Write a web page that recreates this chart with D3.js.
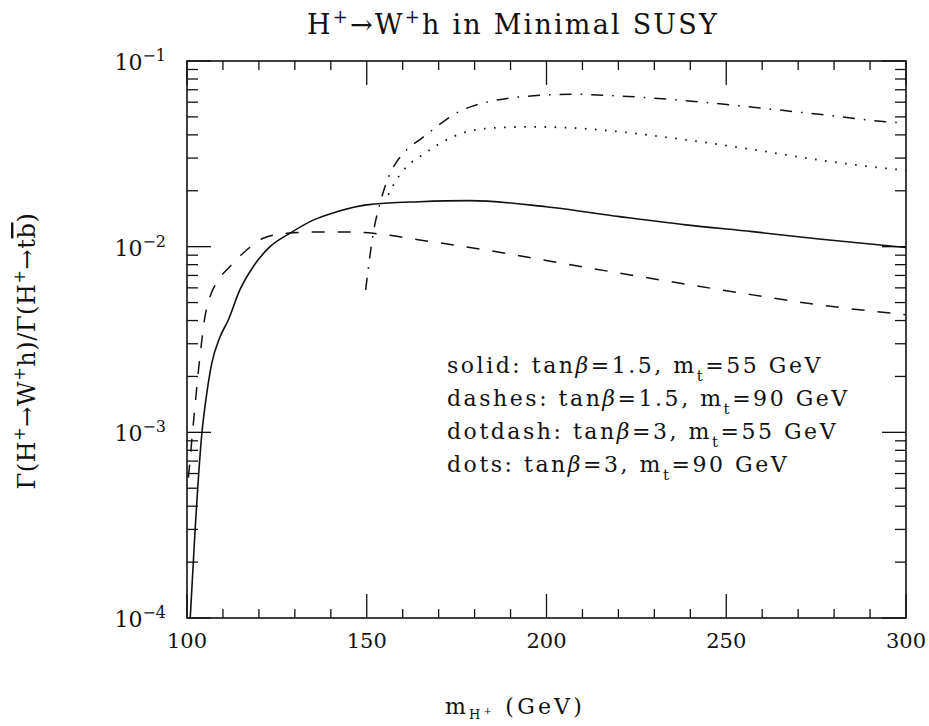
<!DOCTYPE html>
<html><head><meta charset="utf-8">
<script src="https://cdn.jsdelivr.net/npm/d3@7"></script>
<style>
body{margin:0;background:#fff;}
text{font-family:"DejaVu Serif","Liberation Serif",serif;fill:#111;}
</style></head>
<body><svg id="c" width="929" height="726"></svg>
<script>
// ---- data ----
const solidX = [100.9,102.2,104.1,105.5,106.9,109.2,111.5,114.7,118.4,123.1,128.6,135.1,141.6,149.9,164.7,178.6,199.9,220.3,238.8,257.3,275.8,300];
const solidY = [1e-4,2.86e-4,9.7e-4,1.62e-3,2.36e-3,3.27e-3,4.03e-3,5.85e-3,7.8e-3,0.0100,0.0118,0.0139,0.0154,0.0168,0.01746,0.0177,0.0164,0.01452,0.0131,0.01205,0.0110,0.0099];
const dashX = [100.4,102.2,103.6,105,106.4,107.8,111.9,116.6,121.2,127.7,137,144.4,151.8,164.7,183.2,201.8,220.3,238.8,257.3,275.8,300];
const dashY = [5.7e-4,1.37e-3,2.56e-3,4.2e-3,5.38e-3,6.2e-3,7.8e-3,9.6e-3,0.0111,0.0118,0.0120,0.0120,0.0118,0.01086,0.0096,0.0083,0.0072,0.00628,0.0055,0.00486,0.0043];
const dotdashX = [149.7,151.8,154,156,158,160,162,164.7,169.4,174,183.3,199.9,207.2,220.3,238.8,257.3,275.8,294.4,300];
const dotdashY = [0.00585,0.0118,0.018,0.0235,0.028,0.0315,0.0345,0.0376,0.0443,0.0512,0.060,0.0656,0.0662,0.0648,0.0611,0.0564,0.0516,0.0471,0.0462];
const dotsX = [156,158,160,162,164.7,174,183.2,195.3,206.4,220.3,238.8,257.3,275.8,297.1,300];
const dotsY = [0.019,0.0225,0.0255,0.028,0.0305,0.0391,0.0433,0.0442,0.0437,0.0416,0.0376,0.0334,0.0293,0.0261,0.0258];
const xTickLabels = ["100","150","200","250","300"];
const yTickExps = ["-4","-3","-2","-1"];
const legendLines = [
  ["solid: tan","=1.5, m","=55 GeV"],
  ["dashes: tan","=1.5, m","=90 GeV"],
  ["dotdash: tan","=3, m","=55 GeV"],
  ["dots: tan","=3, m","=90 GeV"]
];

// ---- layout ----
const W = 929, H = 726;
const m = {left:187, top:61, right:23, bottom:108};
const iw = W - m.left - m.right, ih = H - m.top - m.bottom;
const svg = d3.select("#c");
const g = svg.append("g").attr("transform",`translate(${m.left},${m.top})`);
const x = d3.scaleLinear().domain([100,300]).range([0,iw]);
const y = d3.scaleLog().domain([1e-4,1e-1]).range([ih,0]);

function fit(t, target){
  const n = t.text().length;
  const w = t.node().getComputedTextLength();
  t.attr("letter-spacing", ((target - w) / n).toFixed(2));
}

// frame
g.append("rect").attr("width",iw).attr("height",ih).attr("fill","none").attr("stroke","#111").attr("stroke-width",1.6);

// ticks (inward, all sides)
const xMajor = d3.range(100,301,50), xMinor = d3.range(100,301,10).filter(v=>v%50!==0);
const yMajor = [1e-4,1e-3,1e-2,1e-1];
const yMinor = [];
for (let e=-4;e<-1;e++) for (let k=2;k<10;k++) yMinor.push(k*Math.pow(10,e));
const tk = g.append("g").attr("stroke","#111").attr("stroke-width",1.3);
function xt(vals,len){
  vals.forEach(v=>{
    tk.append("line").attr("x1",x(v)).attr("x2",x(v)).attr("y1",ih).attr("y2",ih-len);
    tk.append("line").attr("x1",x(v)).attr("x2",x(v)).attr("y1",0).attr("y2",len);
  });
}
function yt(vals,len){
  vals.forEach(v=>{
    tk.append("line").attr("x1",0).attr("x2",len).attr("y1",y(v)).attr("y2",y(v));
    tk.append("line").attr("x1",iw).attr("x2",iw-len).attr("y1",y(v)).attr("y2",y(v));
  });
}
xt(xMajor,24); xt(xMinor,9); yt(yMajor,24); yt(yMinor,11);

// tick labels
xMajor.forEach((v,i)=>{
  g.append("text").attr("x",x(v)).attr("y",ih+30).attr("text-anchor","middle")
   .attr("font-size",21).text(xTickLabels[i]);
});
yMajor.forEach((v,i)=>{
  const t = g.append("text").attr("x",-21).attr("y",y(v)+9).attr("text-anchor","end").attr("font-size",22);
  t.append("tspan").text("10");
  t.append("tspan").attr("dy",-9).attr("font-size",16).text(yTickExps[i].replace("-","\u2212"));
});

// curves
const line = (xs,ys)=> d3.line().curve(d3.curveMonotoneX)(xs.map((v,i)=>[x(v),y(ys[i])]));
const cg = g.append("g").attr("fill","none").attr("stroke","#111");
cg.append("path").attr("d",line(solidX,solidY)).attr("stroke-width",1.6);
cg.append("path").attr("d",line(dashX,dashY)).attr("stroke-width",1.5).attr("stroke-dasharray","13,13");
cg.append("path").attr("d",line(dotdashX,dotdashY)).attr("stroke-width",1.5).attr("stroke-dasharray","12,9,1.6,9");
cg.append("path").attr("d",line(dotsX,dotsY)).attr("stroke-width",1.8).attr("stroke-dasharray","1.6,8.5");

// legend
const legTexts = legendLines.map((p,i)=>{
  const t = svg.append("text").attr("x",447).attr("y",373+i*33).attr("font-size",22);
  t.append("tspan").text(p[0]);
  t.append("tspan").attr("font-style","italic").text("\u03B2");
  t.append("tspan").text(p[1]);
  t.append("tspan").attr("dy",8).attr("font-size",15).text("t");
  t.append("tspan").attr("dy",-8).text(p[2]);
  return t;
});
{
  const t3 = legTexts[2];
  const n = t3.text().length, w = t3.node().getComputedTextLength();
  const ls = ((838 - 447) - w) / n;
  legTexts.forEach(t=>t.attr("letter-spacing",ls.toFixed(2)));
}

// title
const tt = svg.append("text").attr("x",513).attr("y",34).attr("text-anchor","middle").attr("font-size",27);
tt.append("tspan").text("H");
tt.append("tspan").attr("dy",-11).attr("font-size",18).text("+");
tt.append("tspan").attr("dy",11).text("\u2192W");
tt.append("tspan").attr("dy",-11).attr("font-size",18).text("+");
tt.append("tspan").attr("dy",11).text("h in Minimal SUSY");
fit(tt,412);

// x label
const xl = svg.append("text").attr("x",515).attr("y",714).attr("text-anchor","middle").attr("font-size",22);
xl.append("tspan").text("m");
xl.append("tspan").attr("dy",5).attr("font-size",13).text("H");
xl.append("tspan").attr("dy",-5).attr("font-size",10).text("+");
xl.append("tspan").text(" (GeV)");
fit(xl,140);

// y label
const yl = svg.append("text").attr("transform","translate(35,351) rotate(-90)").attr("text-anchor","middle").attr("font-size",24);
yl.append("tspan").text("\u0393(H");
yl.append("tspan").attr("dy",-10).attr("font-size",16).text("+");
yl.append("tspan").attr("dy",10).text("\u2192W");
yl.append("tspan").attr("dy",-10).attr("font-size",16).text("+");
yl.append("tspan").attr("dy",10).text("h)/\u0393(H");
yl.append("tspan").attr("dy",-10).attr("font-size",16).text("+");
yl.append("tspan").attr("dy",10).text("\u2192t");
yl.append("tspan").attr("text-decoration","overline").text("b");
yl.append("tspan").text(")");
fit(yl,277);
</script></body></html>
